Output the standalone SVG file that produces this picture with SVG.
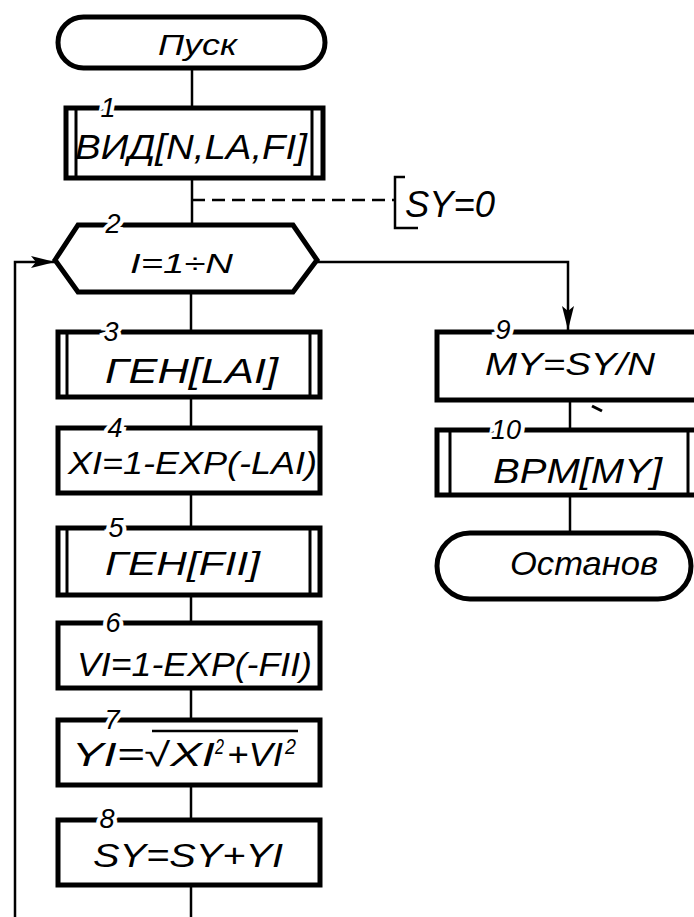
<svg xmlns="http://www.w3.org/2000/svg" width="694" height="917" viewBox="0 0 694 917">
<defs>
<style>
.box{fill:#fff;stroke:#000;stroke-width:5;stroke-linejoin:miter}
.bar{stroke:#000;stroke-width:3;fill:none}
.ln{stroke:#000;stroke-width:2.5;fill:none}
.t{font-family:"Liberation Sans","DejaVu Sans",sans-serif;font-style:italic;fill:#000}
.num{font-family:"Liberation Sans","DejaVu Sans",sans-serif;font-style:italic;font-size:27px;fill:#000;stroke:#fff;stroke-width:8px;paint-order:stroke;text-anchor:middle}
</style>
<marker id="arr" viewBox="0 0 24 12" refX="24" refY="6" markerWidth="24" markerHeight="12" markerUnits="userSpaceOnUse" orient="auto">
<path d="M0,0 L24,6 L0,12 L5,6 Z" fill="#000"/>
</marker>
</defs>
<rect width="694" height="917" fill="#fff"/>

<g id="connectors">
<line class="ln" x1="192" y1="68" x2="192" y2="108"/>
<line class="ln" x1="192" y1="178" x2="192" y2="225"/>
<line class="ln" x1="192" y1="200" x2="395" y2="200" stroke-dasharray="13 7"/>
<line class="ln" x1="191" y1="292" x2="191" y2="332"/>
<line class="ln" x1="191" y1="397" x2="191" y2="428"/>
<line class="ln" x1="191" y1="493" x2="191" y2="528"/>
<line class="ln" x1="191" y1="595" x2="191" y2="623"/>
<line class="ln" x1="191" y1="688" x2="191" y2="720"/>
<line class="ln" x1="191" y1="785" x2="191" y2="820"/>
<line class="ln" x1="191" y1="885" x2="191" y2="917"/>
<path class="ln" d="M15,917 V262 H55" marker-end="url(#arr)"/>
<path class="ln" d="M317,262 H568 V330" marker-end="url(#arr)"/>
<line class="ln" x1="570" y1="400" x2="570" y2="430"/>
<line class="ln" x1="570" y1="495" x2="570" y2="533"/>
<line x1="592" y1="406" x2="602" y2="411" stroke="#000" stroke-width="3"/>
</g>

<g id="start">
<rect class="box" x="58" y="17" width="267" height="51" rx="25.5"/>
<text class="t" x="158" y="55" font-size="30" textLength="79" lengthAdjust="spacingAndGlyphs">Пуск</text>
</g>

<g id="n1">
<rect class="box" x="66" y="108" width="257" height="70"/>
<line class="bar" x1="76" y1="108" x2="76" y2="178"/>
<line class="bar" x1="312" y1="108" x2="312" y2="178"/>
<text class="num" x="108" y="117">1</text>
<text class="t" x="75" y="159" font-size="35" textLength="232" lengthAdjust="spacingAndGlyphs">ВИД[N,LA,FI]</text>
</g>

<g id="comment">
<path class="ln" d="M405,177 H395 V228 H418"/>
<text class="t" x="405" y="217" font-size="37" textLength="90" lengthAdjust="spacingAndGlyphs">SY=0</text>
</g>

<g id="n2">
<polygon class="box" points="55,260 78,225 293,225 317,260 293,292 78,292"/>
<text class="num" x="113" y="233">2</text>
<text class="t" x="130" y="273" font-size="27" textLength="103" lengthAdjust="spacingAndGlyphs">I=1÷N</text>
</g>

<g id="n3">
<rect class="box" x="58" y="332" width="262" height="65"/>
<line class="bar" x1="67" y1="332" x2="67" y2="397"/>
<line class="bar" x1="310" y1="332" x2="310" y2="397"/>
<text class="num" x="111" y="341">3</text>
<text class="t" x="105" y="383" font-size="35" textLength="173" lengthAdjust="spacingAndGlyphs">ГЕН[LAI]</text>
</g>

<g id="n4">
<rect class="box" x="58" y="428" width="262" height="65"/>
<text class="num" x="115" y="437">4</text>
<text class="t" x="68" y="474" font-size="32" textLength="249" lengthAdjust="spacingAndGlyphs">XI=1-EXP(-LAI)</text>
</g>

<g id="n5">
<rect class="box" x="58" y="528" width="262" height="67"/>
<line class="bar" x1="67" y1="528" x2="67" y2="595"/>
<line class="bar" x1="310" y1="528" x2="310" y2="595"/>
<text class="num" x="116" y="537">5</text>
<text class="t" x="105" y="575" font-size="34" textLength="155" lengthAdjust="spacingAndGlyphs">ГЕН[FII]</text>
</g>

<g id="n6">
<rect class="box" x="58" y="623" width="262" height="65"/>
<text class="num" x="113" y="632">6</text>
<text class="t" x="77" y="676" font-size="34" textLength="235" lengthAdjust="spacingAndGlyphs">VI=1-EXP(-FII)</text>
</g>

<g id="n7">
<rect class="box" x="58" y="720" width="262" height="65"/>
<text class="num" x="112" y="729">7</text>
<line x1="152" y1="731" x2="298" y2="731" stroke="#000" stroke-width="2.5"/>
<text class="t" x="72" y="766" font-size="33" textLength="143" lengthAdjust="spacingAndGlyphs">YI=√XI</text>
<text class="t" x="215" y="754" font-size="22" textLength="9" lengthAdjust="spacingAndGlyphs">2</text>
<text class="t" x="227" y="766" font-size="33" textLength="56" lengthAdjust="spacingAndGlyphs">+VI</text>
<text class="t" x="285" y="754" font-size="22" textLength="11" lengthAdjust="spacingAndGlyphs">2</text>
</g>

<g id="n8">
<rect class="box" x="58" y="820" width="262" height="65"/>
<text class="num" x="107" y="828">8</text>
<text class="t" x="93" y="867" font-size="34" textLength="190" lengthAdjust="spacingAndGlyphs">SY=SY+YI</text>
</g>

<g id="n9">
<rect class="box" x="437" y="332" width="264" height="68"/>
<text class="num" x="503" y="339">9</text>
<text class="t" x="485" y="375" font-size="31" textLength="170" lengthAdjust="spacingAndGlyphs">MY=SY/N</text>
</g>

<g id="n10">
<rect class="box" x="437" y="430" width="264" height="65"/>
<line class="bar" x1="450" y1="430" x2="450" y2="495"/>
<line class="bar" x1="688" y1="430" x2="688" y2="495"/>
<text class="num" x="506" y="439">10</text>
<text class="t" x="493" y="483" font-size="35" textLength="169" lengthAdjust="spacingAndGlyphs">BPM[MY]</text>
</g>

<g id="stop">
<rect class="box" x="437" y="533" width="254" height="66" rx="33"/>
<text class="t" x="510" y="575" font-size="34" textLength="148" lengthAdjust="spacingAndGlyphs">Останов</text>
</g>
</svg>
